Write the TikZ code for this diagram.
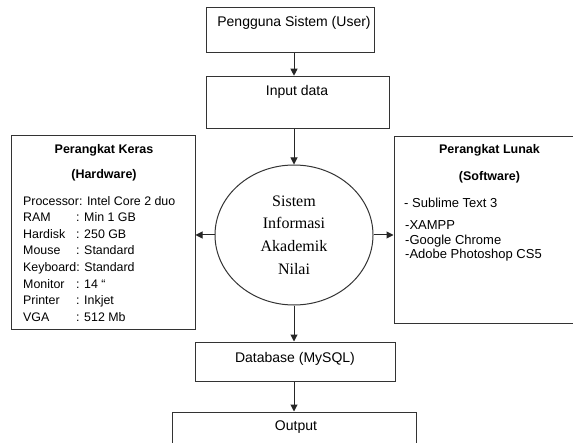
\documentclass[tikz,border=0pt]{standalone}
\usepackage{fontspec}
\setmainfont{Liberation Sans}
\newfontfamily\serifface{Liberation Serif}
\usetikzlibrary{arrows.meta,shapes.geometric}
\begin{document}
\begin{tikzpicture}[x=1bp,y=-1bp,
  box/.style={draw=black!80, line width=1bp, rectangle, inner sep=0pt},
  txt/.style={inner sep=0pt, font=\fontsize{14bp}{16bp}\selectfont},
  ttl/.style={inner sep=0pt, font=\fontsize{12.5bp}{15bp}\selectfont\bfseries},
  lst/.style={inner sep=0pt, anchor=base west, font=\fontsize{12.4bp}{15bp}\selectfont},
  rst/.style={inner sep=0pt, anchor=base west, font=\fontsize{13bp}{15bp}\selectfont},
  arr/.style={draw=black!85, line width=1bp, -{Triangle[length=7bp,width=7bp]}}]
\useasboundingbox (0,0) rectangle (573,443);
\clip (0,0) rectangle (573,443);
\fill[white] (0,0) rectangle (573,443);

% boxes
\node[box, minimum width=168bp, minimum height=45bp] (user) at (290,29.8) {};
\node[txt] (usert) at (294,23) {Pengguna Sistem (User)};

\node[box, minimum width=183bp, minimum height=52bp] (input) at (297.5,102.2) {};
\node[txt] (inputt) at (297,92) {Input data};

\node[draw=black!80, line width=1bp, ellipse, minimum width=158bp, minimum height=140bp, inner sep=0pt,
      align=center, font=\serifface\fontsize{16bp}{22.7bp}\selectfont] (sia) at (294,235)
      {Sistem\\Informasi\\Akademik\\Nilai};

\node[box, minimum width=183bp, minimum height=193bp] (hw) at (103.5,232.5) {};
\node[ttl] (hwt1) at (104,150) {Perangkat Keras};
\node[ttl] (hwt2) at (104,175) {(Hardware)};
\node[lst] (hw1) at (23,205.2) {Processor: Intel Core 2 duo};
\node[lst] (hw2) at (23,221.8) {\makebox[53bp][l]{RAM}: Min 1 GB};
\node[lst] (hw3) at (23,238.4) {\makebox[53bp][l]{Hardisk}: 250 GB};
\node[lst] (hw4) at (23,255.0) {\makebox[53bp][l]{Mouse}: Standard};
\node[lst] (hw5) at (23,271.6) {Keyboard: Standard};
\node[lst] (hw6) at (23,288.2) {\makebox[53bp][l]{Monitor}: 14 “};
\node[lst] (hw7) at (23,304.8) {\makebox[53bp][l]{Printer}: Inkjet};
\node[lst] (hw8) at (23,321.4) {\makebox[53bp][l]{VGA}: 512 Mb};

\node[box, minimum width=190bp, minimum height=186bp] (sw) at (489,230) {};
\node[ttl] (swt1) at (489.5,150) {Perangkat Lunak};
\node[ttl] (swt2) at (489.5,177) {(Software)};
\node[rst] (sw1) at (404,207.5) {- Sublime Text 3};
\node[rst] (sw2) at (405,229.5) {-XAMPP};
\node[rst] (sw3) at (405,244.5) {-Google Chrome};
\node[rst] (sw4) at (405,258.5) {-Adobe Photoshop CS5};

\node[box, minimum width=200bp, minimum height=39bp] (db) at (295,361.5) {};
\node[txt] (dbt) at (295,358.5) {Database (MySQL)};

\node[box, minimum width=244bp, minimum height=58bp] (out) at (294,441) {};
\node[txt] (outt) at (296,427) {Output};

% connectors
\draw[arr] (user.south -| sia.north) -- (input.north -| sia.north);
\draw[arr] (input.south -| sia.north) -- (sia.north);
\draw[arr] (sia.west) -- (hw.east |- sia.west);
\draw[arr] (sia.east) -- (sw.west |- sia.east);
\draw[arr] (sia.south) -- (db.north -| sia.south);
\draw[arr] (db.south -| sia.south) -- (out.north -| sia.south);
\end{tikzpicture}
\end{document}
